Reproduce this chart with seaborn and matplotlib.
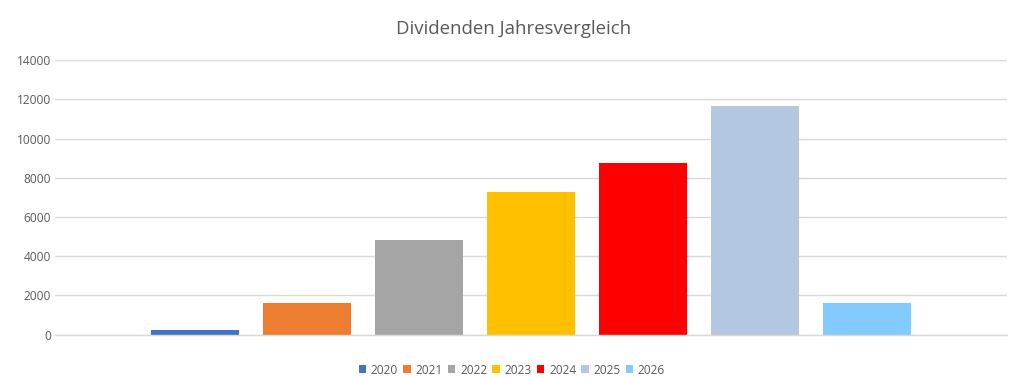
import matplotlib
matplotlib.use("Agg")
import matplotlib.pyplot as plt
import seaborn as sns
import pandas as pd
from matplotlib.patches import Patch

years = ["2020", "2021", "2022", "2023", "2024", "2025", "2026"]
values = [230, 1600, 4820, 7270, 8770, 11660, 1600]
colors = ["#4472C4", "#ED7D31", "#A5A5A5", "#FFC000", "#FF0000", "#B4C7E0", "#83CAFF"]
title = "Dividenden Jahresvergleich"

df = pd.DataFrame({"Jahr": years, "Dividende": values})

sns.set_theme(style="white")
plt.rcParams["font.family"] = ["Open Sans", "DejaVu Sans"]

fig = plt.figure(figsize=(10.24, 3.78), dpi=100)
ax = fig.add_axes([55 / 1024, 1 - 334.5 / 378, (1007 - 55) / 1024, (334.5 - 60.3) / 378])

sns.barplot(data=df, x="Jahr", y="Dividende", hue="Jahr", palette=colors,
            width=0.786, dodge=False, legend=False, ax=ax, saturation=1,
            edgecolor="none")

ax.set_xlim(-1.25, 7.25)
ax.set_ylim(0, 14000)
ax.set_yticks(range(0, 14001, 2000))
ax.yaxis.grid(True, color="#d9d9d9", linewidth=1)
ax.set_axisbelow(True)
ax.set_xticks([])
ax.set_xlabel("")
ax.set_ylabel("")
for s in ["top", "right", "left"]:
    ax.spines[s].set_visible(False)
ax.spines["bottom"].set_color("#d9d9d9")
ax.spines["bottom"].set_linewidth(1)
ax.tick_params(axis="y", length=0, labelsize=8.6, labelcolor="#595959", pad=3)

fig.suptitle(title, x=0.502, y=0.947, fontsize=13.4, color="#595959")

handles = [Patch(facecolor=c, edgecolor="none") for c in colors]
fig.legend(handles, years, loc="center", bbox_to_anchor=(0.5, 1 - 370 / 378),
           ncol=len(years), frameon=False, fontsize=8.6, labelcolor="#595959",
           handlelength=0.6, handleheight=0.6, handletextpad=0.4, columnspacing=0.45)

fig.savefig("out.png", dpi=100)
